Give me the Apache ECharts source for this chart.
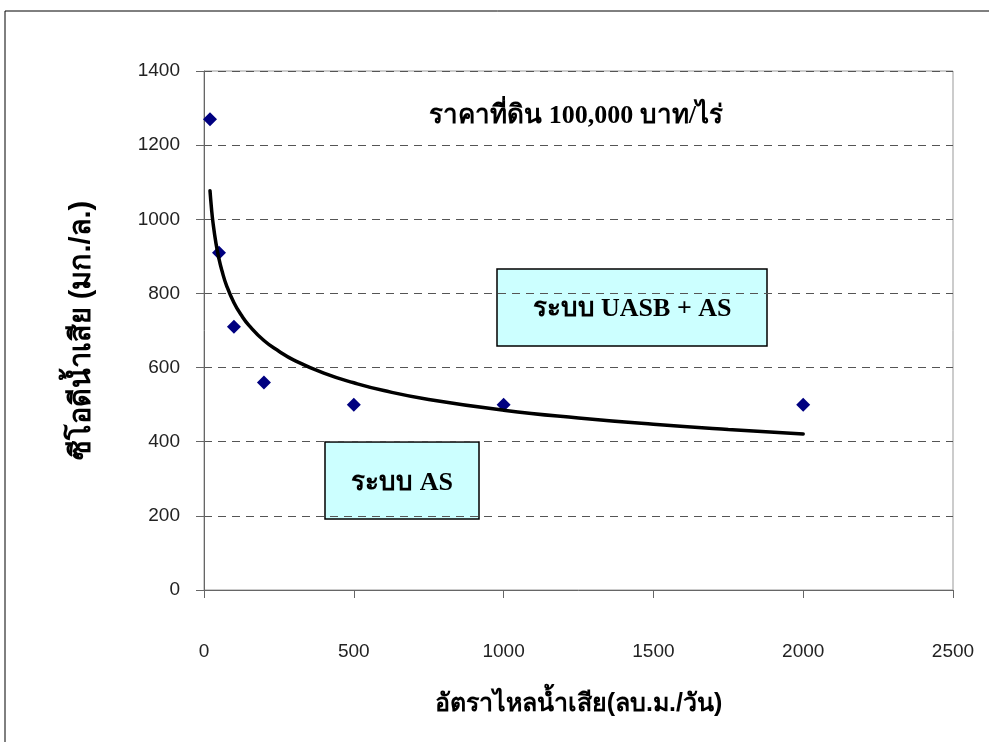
<!DOCTYPE html>
<html>
<head>
<meta charset="utf-8">
<script src="https://cdn.jsdelivr.net/npm/echarts@6/dist/echarts.min.js"></script>
<style>html,body{margin:0;padding:0;background:#fff;}#c{width:989px;height:742px;}</style>
</head>
<body>
<div id="c"></div>
<script>
// Data
const flowX = [20, 50, 100, 200, 500, 1000, 2000];
const codY = [1270, 910, 710, 560, 500, 500, 500];
// Trend line read at points along the drawn curve
const trendX = [20, 25, 30, 40, 50, 60, 75, 100, 125, 150, 200, 250, 300, 400, 500, 600, 750, 1000, 1250, 1500, 1750, 2000];
const trendY = [1077, 1029, 991, 935, 893, 861, 822, 775, 741, 714, 673, 644, 620, 585, 559, 538, 514, 485, 464, 447, 433, 421];
const xTicks = [0, 500, 1000, 1500, 2000, 2500];
const yTicks = [0, 200, 400, 600, 800, 1000, 1200, 1400];
const title = 'ราคาที่ดิน 100,000 บาท/ไร่';
const xName = 'อัตราไหลน้ำเสีย(ลบ.ม./วัน)';
const yName = 'ซีโอดีน้ำเสีย (มก./ล.)';
const boxUpper = 'ระบบ UASB + AS';
const boxLower = 'ระบบ AS';

const chart = echarts.init(document.getElementById('c'));
const tickFont = '"Liberation Sans Narrow", "Liberation Sans", sans-serif';
const serifFont = '"Liberation Serif", serif';
chart.setOption({
  animation: false,
  backgroundColor: '#fff',
  grid: { left: 204, right: 36, top: 71, bottom: 152, show: true, borderColor: '#999', borderWidth: 1 },
  xAxis: {
    type: 'value', min: xTicks[0], max: xTicks[xTicks.length - 1], interval: 500,
    axisLine: { show: true, lineStyle: { color: '#666', width: 1 } },
    axisTick: { show: true, inside: false, length: 8, lineStyle: { color: '#666' } },
    axisLabel: { margin: 52, fontSize: 19, color: '#222', fontFamily: tickFont, formatter: v => String(v) },
    splitLine: { show: false },
    name: xName, nameLocation: 'middle', nameGap: 102,
    nameTextStyle: { fontSize: 25, fontWeight: 'bold', color: '#000', fontFamily: tickFont }
  },
  yAxis: {
    type: 'value', min: yTicks[0], max: yTicks[yTicks.length - 1], interval: 200,
    axisLine: { show: true, lineStyle: { color: '#666', width: 1 } },
    axisTick: { show: true, inside: false, length: 8, lineStyle: { color: '#666' } },
    axisLabel: { margin: 24, fontSize: 19, color: '#222', fontFamily: tickFont, formatter: v => String(v) },
    splitLine: { show: true, lineStyle: { type: [8, 6], color: '#555', width: 1 } },
    name: yName, nameLocation: 'middle', nameGap: 108, nameRotate: 90,
    nameTextStyle: { fontSize: 29, fontWeight: 'bold', color: '#000', fontFamily: tickFont }
  },
  series: [
    {
      type: 'scatter', data: flowX.map((x, i) => [x, codY[i]]),
      symbol: 'diamond', symbolSize: 14,
      itemStyle: { color: '#000080', opacity: 1 }, z: 2
    },
    {
      type: 'line', data: trendX.map((x, i) => [x, trendY[i]]),
      smooth: true, showSymbol: false, symbol: 'none',
      lineStyle: { color: '#000', width: 3.5, cap: 'round', join: 'round' }, z: 3
    }
  ],
  graphic: [
    { type: 'rect', shape: { x: 5, y: 11, width: 1000, height: 800 }, style: { fill: 'none', stroke: '#000', lineWidth: 1 }, silent: true, z: -1 },
    { type: 'text', x: 576, y: 116, style: { text: title, align: 'center', verticalAlign: 'middle', fontSize: 26, fontWeight: 'bold', fill: '#000', fontFamily: serifFont }, z: 10 },
    { type: 'group', x: 497, y: 269, z: 10, children: [
      { type: 'rect', shape: { x: 0, y: 0, width: 270, height: 77 }, style: { fill: '#CCFFFF', stroke: '#000', lineWidth: 1.5 } },
      { type: 'text', style: { text: boxUpper, x: 135, y: 40, align: 'center', verticalAlign: 'middle', fontSize: 26, fontWeight: 'bold', fill: '#000', fontFamily: serifFont } }
    ]},
    { type: 'group', x: 325, y: 442, z: 10, children: [
      { type: 'rect', shape: { x: 0, y: 0, width: 154, height: 77 }, style: { fill: '#CCFFFF', stroke: '#000', lineWidth: 1.5 } },
      { type: 'text', style: { text: boxLower, x: 77, y: 41, align: 'center', verticalAlign: 'middle', fontSize: 26, fontWeight: 'bold', fill: '#000', fontFamily: serifFont } }
    ]}
  ]
});
</script>
</body>
</html>
